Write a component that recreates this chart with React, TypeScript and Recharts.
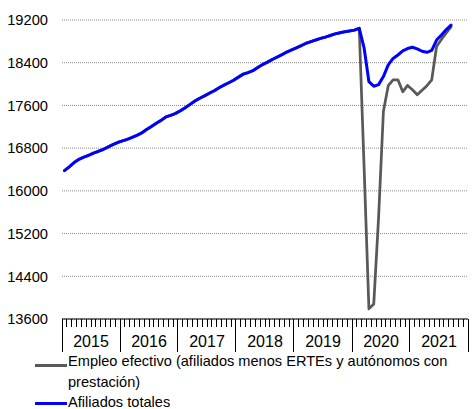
import React from 'react';
import { LineChart, Line, XAxis, YAxis, CartesianGrid, Legend } from 'recharts';

const FONT = '"Liberation Sans", Arial, sans-serif';

const years = ['2015', '2016', '2017', '2018', '2019', '2020', '2021'];

const yTicks = [13600, 14400, 15200, 16000, 16800, 17600, 18400, 19200];

// Monthly values (thousands), Jan 2015 - Sep 2021
const afiliadosTotales = [
  16380, 16450, 16530, 16590, 16630, 16665, 16705, 16740, 16775, 16820, 16865, 16905,
  16935, 16965, 17000, 17040, 17085, 17150, 17205, 17265, 17320, 17385, 17415, 17450,
  17500, 17557, 17620, 17683, 17735, 17780, 17829, 17875, 17930, 17980, 18025, 18072,
  18130, 18186, 18215, 18250, 18310, 18365, 18410, 18460, 18505, 18550, 18600, 18640,
  18680, 18720, 18765, 18795, 18825, 18855, 18880, 18910, 18940, 18960, 18980, 18995,
  19010, 19045, 18680, 18045, 17960, 17990, 18140, 18360, 18480, 18545, 18620, 18665,
  18690, 18660, 18615, 18595, 18630, 18825, 18920, 19020, 19105,
];

const empleoEfectivo = [
  16380, 16450, 16530, 16590, 16630, 16665, 16705, 16740, 16775, 16820, 16865, 16905,
  16935, 16965, 17000, 17040, 17085, 17150, 17205, 17265, 17320, 17385, 17415, 17450,
  17500, 17557, 17620, 17683, 17735, 17780, 17829, 17875, 17930, 17980, 18025, 18072,
  18130, 18186, 18215, 18250, 18310, 18365, 18410, 18460, 18505, 18550, 18600, 18640,
  18680, 18720, 18765, 18795, 18825, 18855, 18880, 18910, 18940, 18960, 18980, 18995,
  19010, 19045, 16450, 13790, 13880, 15500, 17490, 17970, 18080, 18080, 17855, 17975,
  17895, 17800, 17885, 17970, 18080, 18705, 18836, 18957, 19070,
];

const data = afiliadosTotales.map((v, i) => ({
  t: i + 0.5,
  afiliados: v,
  empleo: empleoEfectivo[i],
}));

const monthTicks = Array.from({ length: years.length * 12 + 1 }, (_, i) => i);

const MonthTick = (props: any) => {
  const { x, y, payload } = props;
  const v = payload.value as number;
  const isYear = v % 12 === 0;
  const isMid = v % 12 === 6;
  const px = Math.floor(x) + 0.5;
  return (
    <g>
      <line x1={px} y1={y} x2={px} y2={y + (isYear ? 33 : 8)} stroke="#000" strokeWidth={1} />
      {isMid && (
        <text x={x} y={y + 27.5} textAnchor="middle" fontSize={16} fill="#000" fontFamily={FONT}>
          {years[Math.floor(v / 12)]}
        </text>
      )}
    </g>
  );
};

const LegendContent = () => (
  <div
    style={{
      position: 'relative',
      width: 474,
      height: 54,
      fontFamily: FONT,
      fontSize: 14.6,
      color: '#000',
      lineHeight: '21px',
    }}
  >
    <div style={{ position: 'absolute', left: 35, top: 8.5, width: 32, height: 3, background: '#595959' }} />
    <div style={{ position: 'absolute', left: 68, top: -4, whiteSpace: 'nowrap' }}>
      Empleo efectivo (afiliados menos ERTEs y autónomos con
      <br />
      prestación)
    </div>
    <div style={{ position: 'absolute', left: 35, top: 47, width: 32, height: 3, background: '#0000ff' }} />
    <div style={{ position: 'absolute', left: 68, top: 37, whiteSpace: 'nowrap' }}>Afiliados totales</div>
  </div>
);

export default function App() {
  return (
    <div style={{ position: 'absolute', left: 0, top: 0, width: 474, height: 409, background: '#fff' }}>
      <LineChart width={474} height={409} data={data} margin={{ top: 20, right: 6, bottom: 0, left: 0 }}>
        <CartesianGrid vertical={false} strokeDasharray="1 1" stroke="#8a8a8a" />
        <XAxis
          dataKey="t"
          type="number"
          domain={[0, 84]}
          ticks={monthTicks}
          interval={0}
          minTickGap={0}
          height={36}
          tickSize={0}
          tickMargin={0}
          tickLine={false}
          axisLine={{ stroke: '#000', strokeWidth: 1 }}
          tick={<MonthTick />}
        />
        <YAxis
          type="number"
          domain={[13600, 19200]}
          ticks={yTicks}
          interval={0}
          width={62}
          axisLine={false}
          tickLine={false}
          tickSize={0}
          tickMargin={14}
          tick={{ fill: '#000', fontSize: 14.7, fontFamily: FONT }}
        />
        <Legend
          content={<LegendContent />}
          wrapperStyle={{ left: 0, top: 355, width: 474, height: 54, margin: 0, padding: 0 }}
        />
        <Line
          dataKey="empleo"
          name="Empleo efectivo (afiliados menos ERTEs y autónomos con prestación)"
          stroke="#595959"
          strokeWidth={2.75}
          dot={false}
          activeDot={false}
          strokeLinejoin="round"
          strokeLinecap="round"
          isAnimationActive={false}
        />
        <Line
          dataKey="afiliados"
          name="Afiliados totales"
          stroke="#0000ff"
          strokeWidth={3}
          dot={false}
          activeDot={false}
          strokeLinejoin="round"
          strokeLinecap="round"
          isAnimationActive={false}
        />
      </LineChart>
    </div>
  );
}
